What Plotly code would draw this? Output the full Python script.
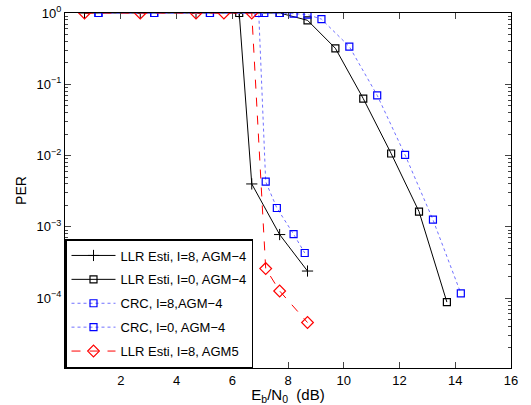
import plotly.graph_objects as go

# Data
x_llr_i8 = [0.7, 2.7, 4.7, 6.25, 6.7, 7.7, 8.7]
y_llr_i8 = [1, 1, 1, 1, 4.0e-3, 7.8e-4, 2.4e-4]

x_llr_i0 = [6.25, 7.7, 8.7, 9.7, 10.7, 11.7, 12.7, 13.7]
y_llr_i0 = [1, 1, 0.79, 0.32, 0.063, 0.0107, 1.64e-3, 8.8e-5]

x_crc_i8 = [1.2, 3.2, 5.2, 6.95, 7.2, 7.6, 8.2, 8.6]
y_crc_i8 = [1, 1, 1, 1, 4.3e-3, 1.84e-3, 7.9e-4, 4.3e-4]

x_crc_i0 = [1.2, 3.2, 5.2, 7.15, 7.7, 8.2, 8.7, 9.2, 10.2, 11.2, 12.2, 13.2, 14.2]
y_crc_i0 = [1, 1, 1, 1, 1, 0.98, 0.95, 0.82, 0.338, 0.070, 0.0102, 1.26e-3, 1.17e-4]

x_llr_agm5 = [0.7, 2.7, 4.7, 5.7, 6.7, 7.2, 7.7, 8.7]
y_llr_agm5 = [1, 1, 1, 1, 1, 2.6e-4, 1.26e-4, 4.55e-5]

names = ["LLR Esti, I=8, AGM\u22124", "LLR Esti, I=0, AGM\u22124",
         "CRC, I=8,AGM\u22124", "CRC, I=0, AGM\u22124", "LLR Esti, I=8, AGM5"]

x_ticks = [2, 4, 6, 8, 10, 12, 14, 16]
y_ticks = [1e-4, 1e-3, 1e-2, 1e-1, 1]
y_ticktext = ["10<sup>\u22124</sup>", "10<sup>\u22123</sup>", "10<sup>\u22122</sup>",
              "10<sup>\u22121</sup>", "10<sup>0</sup>"]
y_minor = [k * 10.0 ** e for e in range(-5, 0) for k in range(2, 10)]
x_range = [0, 16]
y_range_log = [-4.98, 0]

fig = go.Figure()
fig.add_trace(go.Scatter(x=x_llr_i8, y=y_llr_i8, name=names[0], mode="lines+markers",
                         legendgroup="a",
                         line=dict(color="black", width=1),
                         marker=dict(symbol="cross-thin", size=8, line=dict(color="black", width=1))))
fig.add_trace(go.Scatter(x=x_llr_i0, y=y_llr_i0, name=names[1], mode="lines+markers",
                         legendgroup="b",
                         line=dict(color="black", width=1),
                         marker=dict(symbol="square-open", size=7, color="black", line=dict(width=1.2))))
fig.add_trace(go.Scatter(x=x_crc_i8, y=y_crc_i8, name=names[2], mode="lines+markers",
                         legendgroup="c",
                         line=dict(color="#7070ff", width=1, dash="dot"),
                         marker=dict(symbol="square-open", size=7, color="#0000ff", line=dict(width=1.2))))
fig.add_trace(go.Scatter(x=x_crc_i0, y=y_crc_i0, name=names[3], mode="lines+markers",
                         legendgroup="d",
                         line=dict(color="#7070ff", width=1, dash="dot"),
                         marker=dict(symbol="square-open", size=7, color="#0000ff", line=dict(width=1.2))))
fig.add_trace(go.Scatter(x=x_llr_agm5, y=y_llr_agm5, name=names[4], mode="lines+markers",
                         legendgroup="e",
                         line=dict(color="#ff0000", width=1, dash="dash"),
                         marker=dict(symbol="diamond-open", size=9, color="#ff0000", line=dict(width=1.2))))

font = "Liberation Sans, Arial, Helvetica, sans-serif"
fig.update_layout(
    width=531, height=405,
    margin=dict(l=65, r=20, t=13, b=37),
    paper_bgcolor="white", plot_bgcolor="white",
    font=dict(family=font, size=13, color="black"),
    showlegend=True,
    legend=dict(x=0, y=0, xanchor="left", yanchor="bottom",
                bgcolor="white", bordercolor="black", borderwidth=1.5,
                font=dict(size=13), tracegroupgap=4,
                itemwidth=44),
    xaxis=dict(range=x_range, tickvals=x_ticks, ticks="inside", ticklen=6, tickwidth=1.2,
               showline=True, linecolor="black", linewidth=1.2, mirror="allticks",
               showgrid=False, zeroline=False, automargin=False,
               title=dict(text="E<sub>b</sub>/N<sub>0</sub>  (dB)", font=dict(size=15), standoff=2)),
    yaxis=dict(type="log", range=y_range_log, tickvals=y_ticks, ticktext=y_ticktext,
               ticks="inside", ticklen=6, tickwidth=1.2, mirror="allticks",
               minor=dict(ticks="inside", ticklen=3, tickwidth=1, tickvals=y_minor, showgrid=False),
               showline=True, linecolor="black", linewidth=1.2,
               showgrid=False, zeroline=False, automargin=False,
               title=dict(text="PER", font=dict(size=14), standoff=6)),
)
fig.write_html("out.html", config={"displayModeBar": False},
               post_script=("document.body.style.margin='0px';"
                            "document.body.style.overflow='hidden';"
                            "document.documentElement.style.overflow='hidden';"))
